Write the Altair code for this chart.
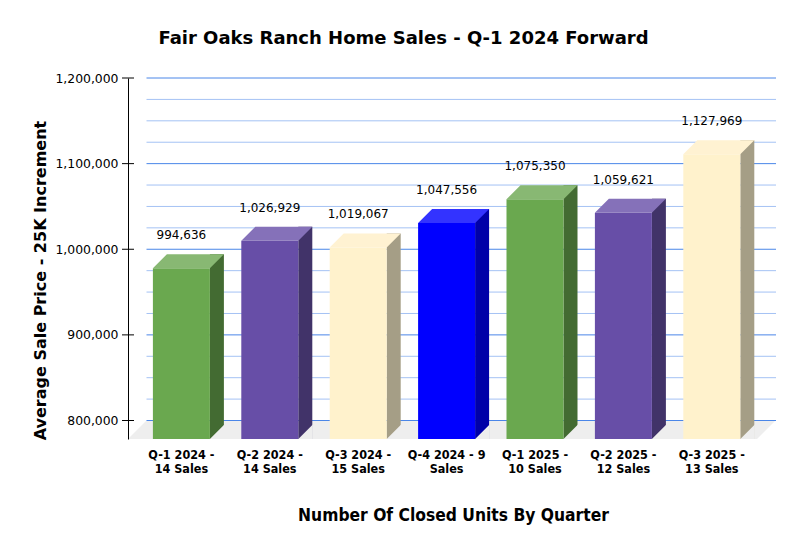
import altair as alt
import pandas as pd

# ---- data ----
QUARTERS = ["Q-1 2024", "Q-2 2024", "Q-3 2024", "Q-4 2024", "Q-1 2025", "Q-2 2025", "Q-3 2025"]
SALES = [14, 14, 15, 9, 10, 12, 13]
AVG_PRICE = [994636, 1026929, 1019067, 1047556, 1075350, 1059621, 1127969]
X_LABELS = ["Q-1 2024 -|14 Sales", "Q-2 2024 -|14 Sales", "Q-3 2024 -|15 Sales",
            "Q-4 2024 - 9|Sales", "Q-1 2025 -|10 Sales", "Q-2 2025 -|12 Sales",
            "Q-3 2025 -|13 Sales"]
Y_TICKS = [800000, 900000, 1000000, 1100000, 1200000]
GRID_MINOR = [825000, 850000, 875000, 925000, 950000, 975000, 1025000, 1050000,
              1075000, 1125000, 1150000, 1175000]

# ---- styles ----
FRONT = ["#6AA84F", "#674EA7", "#FFF2CC", "#0000FF", "#6AA84F", "#674EA7", "#FFF2CC"]
TOP = ["#88B873", "#8571B9", "#FFF2D2", "#3333FF", "#88B873", "#8571B9", "#FFF2D2"]
SIDE = ["#436B32", "#413369", "#A59E86", "#0000A8", "#436B32", "#413369", "#A59E86"]
FLOOR = "#EEEEEE"
VERDANA = "DejaVu Sans"
TAHOMA = "DejaVu Sans Condensed"

W, H = 629, 361
Y_MIN, Y_MAX = 778400, 1200000

df = pd.DataFrame({"cat": X_LABELS, "quarter": QUARTERS, "sales": SALES, "price": AVG_PRICE})

xscale = alt.Scale(domain=X_LABELS, range=[9.2, 628], paddingInner=0, paddingOuter=0)
yscale = alt.Scale(domain=[Y_MIN, Y_MAX], nice=False, zero=False)

x_axis = alt.Axis(title="Number Of Closed Units By Quarter",
                  labelExpr="split(datum.label, '|')",
                  labelAngle=0, labelFont=TAHOMA, labelFontSize=12.5,
                  labelFontWeight="bold", labelColor="#000000",
                  labelLineHeight=14, labelPadding=9, labelBaseline="top",
                  ticks=False, domain=False, grid=False,
                  titleFont=TAHOMA, titleFontSize=17.3, titleFontWeight="bold",
                  titleColor="#000000", titleX=325, titleY=76,
                  titleAlign="center", titleBaseline="middle", titleAnchor="start")

y_axis = alt.Axis(title="Average Sale Price - 25K Increment", values=Y_TICKS,
                  format=",.0f", labelFont=VERDANA, labelFontSize=12.4,
                  labelColor="#000000", labelPadding=10, ticks=False,
                  grid=False, domainColor="#000000", domainWidth=1, zindex=1,
                  titleFont=VERDANA, titleFontSize=16, titleFontWeight="bold",
                  titleColor="#000000", titleAngle=270, titleX=-88, titleY=202,
                  titleAlign="center", titleBaseline="middle", titleAnchor="start")


def xe():
    return alt.X("cat:N", scale=xscale, sort=X_LABELS, axis=x_axis)


def ye(field):
    return alt.Y(field, scale=yscale, axis=y_axis)


base = alt.Chart(df)

floor = alt.Chart(pd.DataFrame({"v": [Y_MIN]})).mark_point(
    shape="M0,0 L18.5,-18.5 L647.5,-18.5 L629,0 Z", size=4, filled=True,
    opacity=1, strokeWidth=0, color=FLOOR
).encode(x=alt.value(0), y=ye("v:Q"))

grid_major = alt.Chart(pd.DataFrame({"v": Y_TICKS})).mark_rule(
    color="#4A86E8", strokeWidth=1
).encode(y=ye("v:Q"), x=alt.value(18.5), x2=alt.value(648))

grid_minor = alt.Chart(pd.DataFrame({"v": GRID_MINOR})).mark_rule(
    color="#A4C2F4", strokeWidth=1
).encode(y=ye("v:Q"), x=alt.value(18.5), x2=alt.value(648))

side = base.mark_bar(width=14, xOffset=35.5, yOffset=0.5).encode(
    x=xe(), y=ye("price:Q"), y2=alt.datum(Y_MIN),
    color=alt.Color("cat:N", scale=alt.Scale(domain=X_LABELS, range=SIDE), legend=None))

side_foot = base.mark_point(
    shape="M28.5,0 L43,0 L43,-14.5 Z", size=4, filled=True, opacity=1,
    strokeWidth=0, color=FLOOR
).encode(x=xe(), y=alt.datum(Y_MIN))

front = base.mark_bar(width=57, yOffset=14.5).encode(
    x=xe(), y=ye("price:Q"), y2=alt.datum(Y_MIN),
    color=alt.Color("cat:N", scale=alt.Scale(domain=X_LABELS, range=FRONT), legend=None))

top = base.mark_point(
    shape="M-28.5,14.5 L28.5,14.5 L42.5,0.5 L-14.5,0.5 Z", size=4, filled=True,
    opacity=1, strokeWidth=0
).encode(
    x=xe(), y=ye("price:Q"),
    fill=alt.Fill("cat:N", scale=alt.Scale(domain=X_LABELS, range=TOP), legend=None))

values = base.mark_text(font=VERDANA, fontSize=12, color="#000000", dy=-18.5,
                        baseline="middle", align="center").encode(
    x=xe(), y=ye("price:Q"),
    text=alt.Text("price:Q", format=","))

ticks = alt.Chart(pd.DataFrame({"v": Y_TICKS})).mark_rule(
    color="#000000", strokeWidth=1
).encode(y=ye("v:Q"), x=alt.value(-6), x2=alt.value(6))

chart = alt.layer(
    floor, grid_minor, grid_major, side, side_foot, front, top, values, ticks
).resolve_scale(color="independent", fill="independent").properties(
    width=W, height=H,
    autosize=alt.AutoSizeParams(type="none"),
    padding={"left": 120, "top": 70, "right": 38, "bottom": 106},
    background="#FFFFFF",
    title=alt.TitleParams("Fair Oaks Ranch Home Sales - Q-1 2024 Forward",
                          font=VERDANA, fontSize=18, fontWeight="bold",
                          color="#000000", anchor="middle", dx=-39, offset=24)
).configure_view(stroke=None)

chart.save("out.html", embed_options={"renderer": "svg", "actions": False})
